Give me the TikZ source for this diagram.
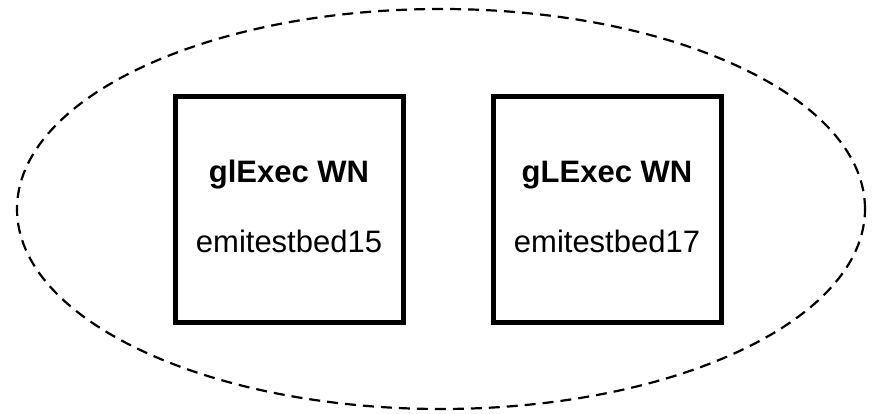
\documentclass[tikz,border=0pt]{standalone}
\usepackage{fontspec}
\setmainfont{Liberation Sans}
\usetikzlibrary{shapes.geometric}
\tikzset{
  wnbox/.style={draw, line width=5pt, minimum width=228pt, minimum height=226pt, inner sep=0pt},
  wntitle/.style={anchor=base, font=\fontsize{31}{31}\selectfont\bfseries},
  wnhost/.style={anchor=base, font=\fontsize{31}{31}\selectfont},
  site/.style={draw, ellipse, line width=2.2pt, dash pattern=on 11pt off 7pt, minimum width=848pt, minimum height=400pt, inner sep=0pt}
}
\begin{document}
\begin{tikzpicture}[x=1pt,y=1pt]
\useasboundingbox (0,0) rectangle (880,414);
\node[site] (cluster) at (441,205) {};
\node[wnbox] (wnA) at (289,204) {};
\node[wnbox] (wnB) at (607,204) {};
\node[wntitle] (wnAname) at (289,231) {glExec WN};
\node[wnhost] (wnAhost) at (289,161) {emitestbed15};
\node[wntitle] (wnBname) at (607,231) {gLExec WN};
\node[wnhost] (wnBhost) at (607,161) {emitestbed17};
\end{tikzpicture}
\end{document}
